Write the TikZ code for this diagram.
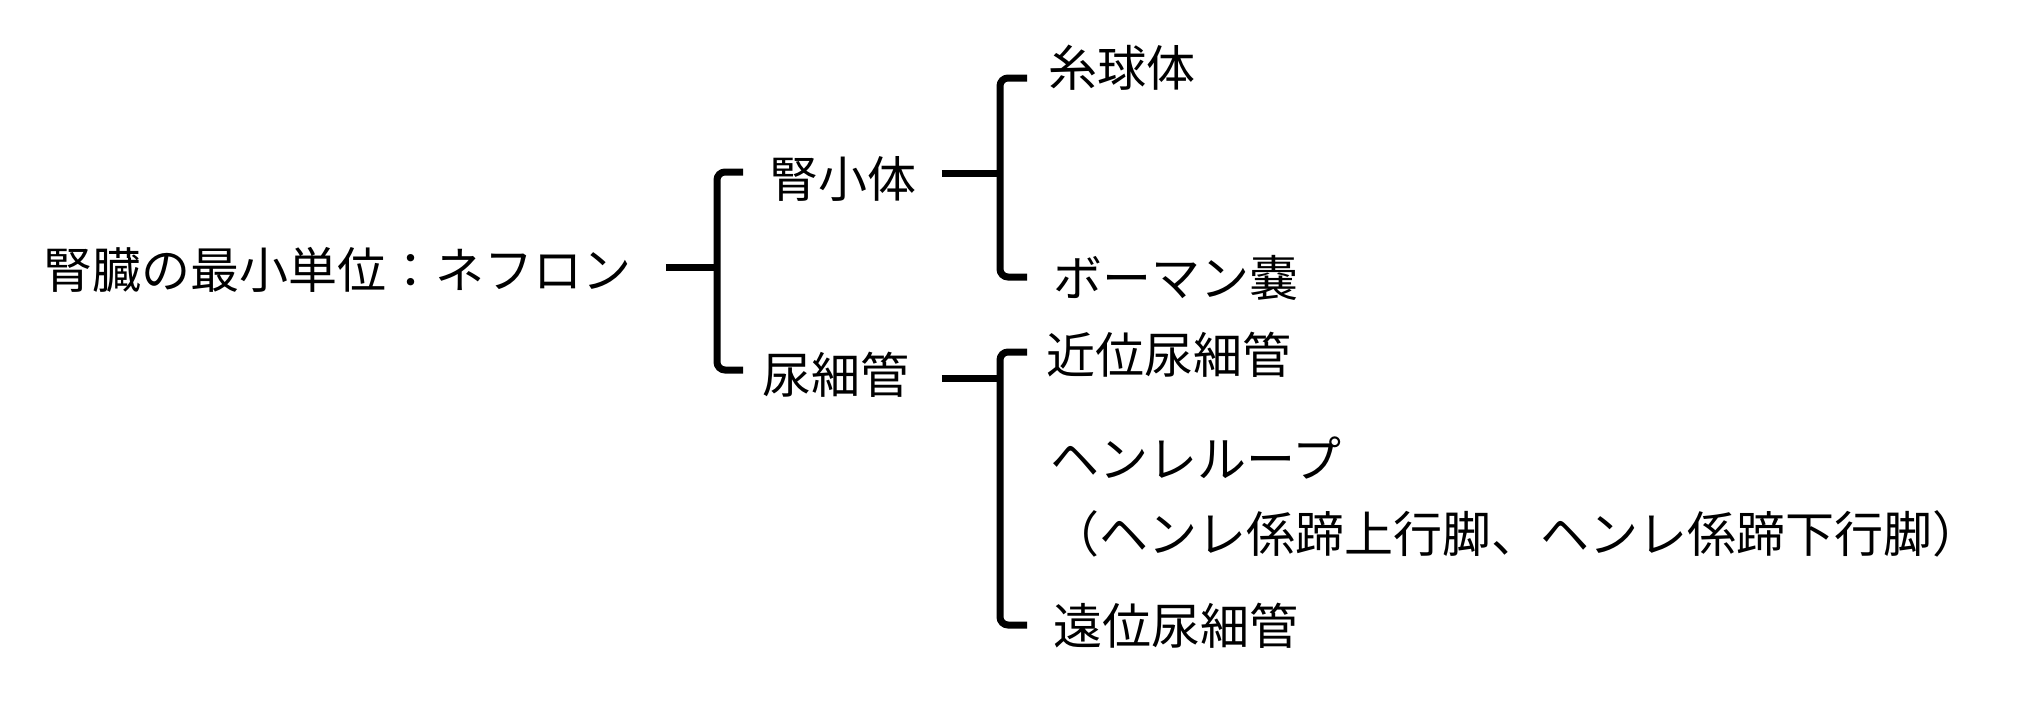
\documentclass[tikz,border=0pt]{standalone}
\usepackage{fontspec}
\usepackage{tikz}
\newfontfamily\jpfont{Noto Sans CJK JP}

\tikzset{
	item/.style={anchor=base west,inner sep=0pt,font=\jpfont\fontsize{24.5}{29}\selectfont},
	bar/.style={line width=3.5pt,rounded corners=4pt},
}

\begin{document}
\begin{tikzpicture}[x=0.5pt,y=-0.5pt]
		\useasboundingbox (0,0) rectangle (2034,720);
		
		\node[item] (nephron) at (43,288) {腎臓の最小単位：ネフロン};
		\node[item] (corpuscle) at (769,197) {腎小体};
		\node[item] (tubule) at (762,393) {尿細管};
		\node[item] (glomerulus) at (1048,86) {糸球体};
		\node[item] (capsule) at (1053,296) {ボーマン嚢};
		\node[item] (proximal) at (1046,373) {近位尿細管};
		\node[item] (henle) at (1050,477) {ヘンレループ};
		\node[item] (limbs) at (1050,552) {（ヘンレ係蹄上行脚、ヘンレ係蹄下行脚）};
		\node[item] (distal) at (1053,644) {遠位尿細管};
		
		\coordinate (j1) at (717,267);
		\coordinate (j2) at (1000,173);
		\coordinate (j3) at (1000,378);
		\coordinate (c1) at (743,172);
		\coordinate (t1) at (743,370);
		\coordinate (g2) at (1027,78);
		\coordinate (b2) at (1027,277);
		\coordinate (p3) at (1027,352);
		\coordinate (d3) at (1027,625);
		
		\draw[bar] (nephron.east |- j1) ++(17pt,0) -- (j1);
		\draw[bar] (c1) -| (j1) |- (t1);
		
		\draw[bar] (corpuscle.east |- j2) ++(12.5pt,0) -- (j2);
		\draw[bar] (g2) -| (j2) |- (b2);
		
		\draw[bar] (tubule.east |- j3) ++(16pt,0) -- (j3);
		\draw[bar] (p3) -| (j3) |- (d3);
	\end{tikzpicture}
\end{document}
